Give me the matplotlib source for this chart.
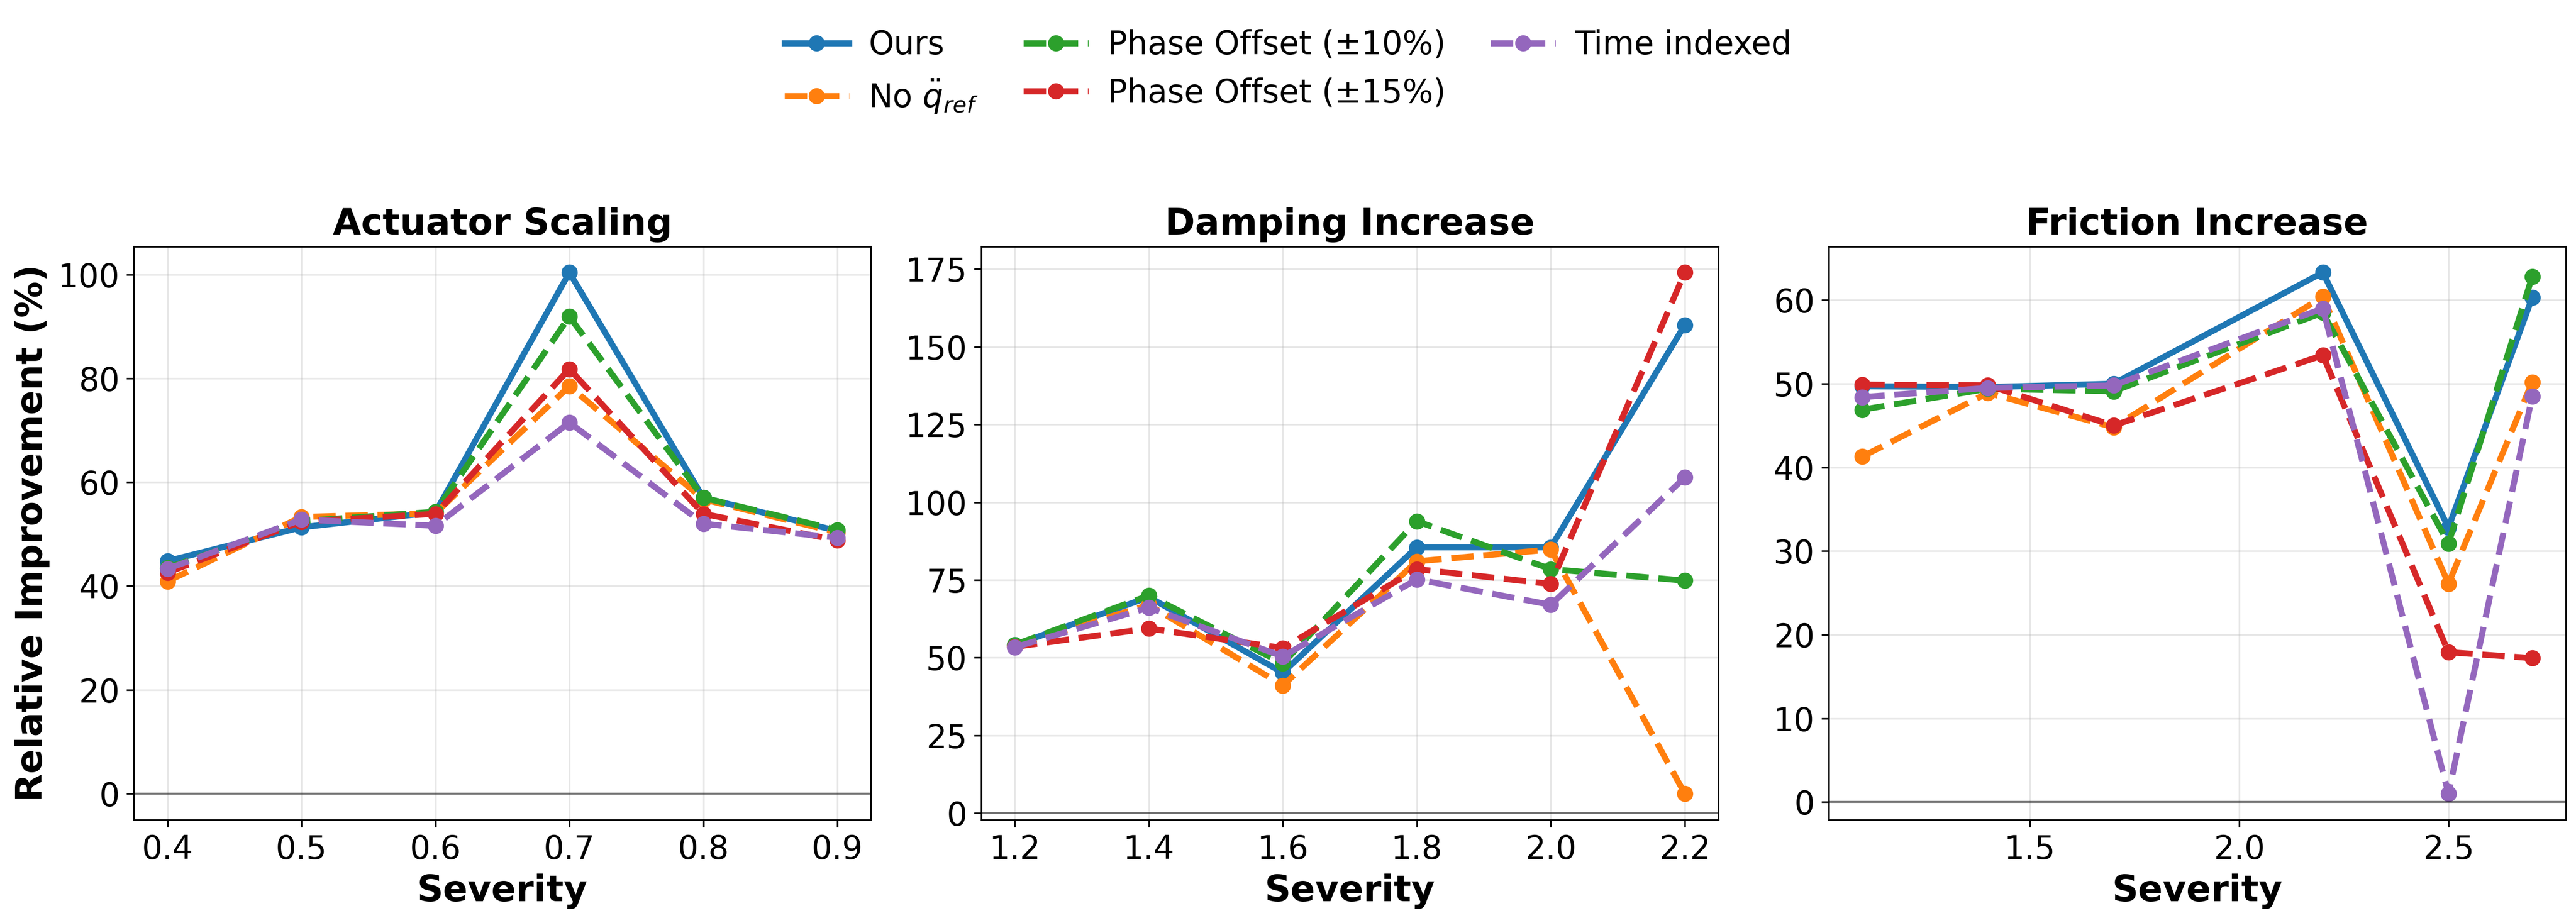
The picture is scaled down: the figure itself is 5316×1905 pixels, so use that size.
import matplotlib
matplotlib.use("Agg")
import matplotlib.pyplot as plt

# --- data ---
methods = ["Ours", r"No $\ddot{q}_{ref}$", "Phase Offset (±10%)", "Phase Offset (±15%)", "Time indexed"]
colors = ["#1f77b4", "#ff7f0e", "#2ca02c", "#d62728", "#9467bd"]
styles = ["-", "--", "--", "--", "--"]

actuator_x = [0.4, 0.5, 0.6, 0.7, 0.8, 0.9]
actuator_ours = [44.8, 51.3, 54.2, 100.4, 57.0, 50.6]
actuator_no_qref = [40.9, 53.3, 54.0, 78.5, 56.7, 50.3]
actuator_phase10 = [43.5, 52.5, 54.3, 91.9, 57.0, 50.8]
actuator_phase15 = [42.6, 52.4, 53.9, 81.8, 53.9, 48.8]
actuator_time = [43.3, 52.8, 51.6, 71.5, 52.0, 49.3]

damping_x = [1.2, 1.4, 1.6, 1.8, 2.0, 2.2]
damping_ours = [54.1, 69.5, 45.2, 85.5, 85.5, 157.0]
damping_no_qref = [53.8, 67.0, 41.1, 81.0, 84.8, 6.3]
damping_phase10 = [54.2, 70.0, 48.2, 93.9, 78.5, 74.8]
damping_phase15 = [53.5, 59.4, 53.1, 78.5, 73.7, 173.9]
damping_time = [53.4, 66.1, 50.4, 75.2, 67.0, 108.0]

friction_x = [1.1, 1.4, 1.7, 2.2, 2.5, 2.7]
friction_ours = [49.7, 49.6, 50.0, 63.3, 32.8, 60.3]
friction_no_qref = [41.3, 48.9, 44.8, 60.4, 26.1, 50.2]
friction_phase10 = [46.9, 49.4, 49.1, 58.5, 30.9, 62.8]
friction_phase15 = [49.9, 49.8, 45.0, 53.4, 17.9, 17.2]
friction_time = [48.4, 49.5, 49.8, 59.0, 1.0, 48.5]

panels = [
    ("Actuator Scaling", actuator_x,
     [actuator_ours, actuator_no_qref, actuator_phase10, actuator_phase15, actuator_time]),
    ("Damping Increase", damping_x,
     [damping_ours, damping_no_qref, damping_phase10, damping_phase15, damping_time]),
    ("Friction Increase", friction_x,
     [friction_ours, friction_no_qref, friction_phase10, friction_phase15, friction_time]),
]

fig, axes = plt.subplots(1, 3, figsize=(17.72, 6.35), dpi=300)
plt.subplots_adjust(left=0.052, right=0.996, top=0.733, bottom=0.112, wspace=0.15)

for ax, (title, xs, series) in zip(axes, panels):
    for name, ys, c, ls in zip(methods, series, colors, styles):
        ax.plot(xs, ys, linestyle=ls, color=c, linewidth=3, marker="o",
                markersize=7, label=name)
    ax.axhline(0, color="black", linewidth=1, alpha=0.5)
    ax.set_title(title, fontsize=18, fontweight="bold")
    ax.set_xlabel("Severity", fontsize=18, fontweight="bold")
    ax.tick_params(labelsize=16)
    ax.grid(True, alpha=0.3)

axes[0].set_ylabel("Relative Improvement (%)", fontsize=18, fontweight="bold")

# shared legend on top
handles, labels = axes[0].get_legend_handles_labels()
fig.legend(handles, labels, loc="upper center", bbox_to_anchor=(0.5, 1.0),
           ncol=3, frameon=False, fontsize=16,
           handletextpad=0.6, columnspacing=1.4)

plt.savefig("out.png", dpi=300)
plt.close()
print("saved out.png")
